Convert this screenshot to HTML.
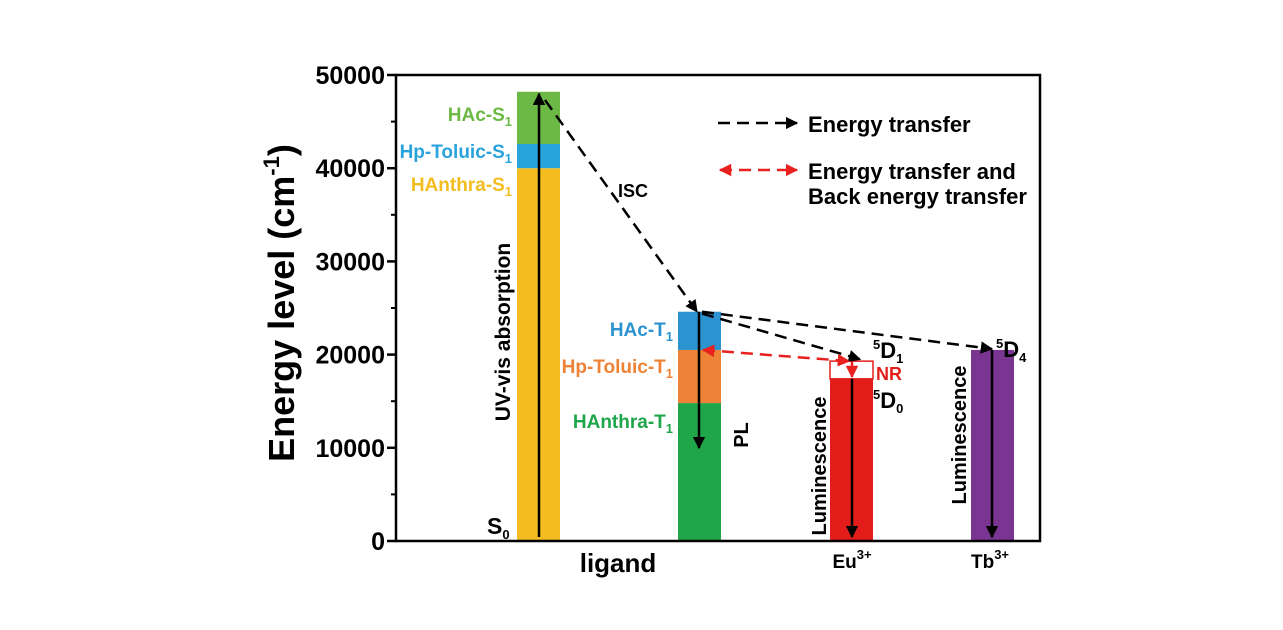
<!DOCTYPE html>
<html><head><meta charset="utf-8"><style>
html,body{margin:0;padding:0;background:#fff;}
svg{display:block;font-family:"Liberation Sans",Arial,sans-serif;font-weight:bold;}
</style></head><body>
<svg id="chart" width="1283" height="630" viewBox="0 0 1283 630">
<defs>
<marker id="ah" viewBox="0 0 10 10" refX="9" refY="5" markerWidth="5" markerHeight="5" orient="auto-start-reverse"><path d="M0,0L10,5L0,10z" fill="#000"/></marker>
<marker id="ahr" viewBox="0 0 10 10" refX="9" refY="5" markerWidth="5" markerHeight="5" orient="auto-start-reverse"><path d="M0,0L10,5L0,10z" fill="#e8201e"/></marker>
</defs>
<g id="bars"></g>
<g id="axes"></g>
<g id="arrows"></g>
<g id="labels"></g>
</svg>
<script>
const yTicks=[0,10000,20000,30000,40000,50000];
const minorTicks=[5000,15000,25000,35000,45000];
const segLabels=["HAnthra-S1","Hp-Toluic-S1","HAc-S1","HAnthra-T1","Hp-Toluic-T1","HAc-T1","Eu-5D0","Eu-NR","Tb-5D4"];
const segBottom=[0,40000,42600,0,14800,20500,0,17400,0];
const segTop=[40000,42600,48200,14800,20500,24600,17400,19300,20500];
const segCol=["#f4bd1f","#29a3dc","#6cba45","#1fa64a","#ee8236","#2a93d0","#e31e1a","#ffffff","#7a3491"];
const segX=[517,517,517,678,678,678,830,830,971];
const W=43;
const X0=396,X1=1040,Y0=541,Y1=75;
function y(v){return Y0-(v/50000)*(Y0-Y1);}
const NS="http://www.w3.org/2000/svg";
function el(tag,attrs,parent,txt){const e=document.createElementNS(NS,tag);for(const k in attrs)e.setAttribute(k,attrs[k]);if(txt!==undefined)e.textContent=txt;parent.appendChild(e);return e;}
const bars=document.getElementById('bars'),axes=document.getElementById('axes');
segTop.forEach((t,i)=>{
 const r=el('rect',{x:segX[i],y:y(t),width:W,height:y(segBottom[i])-y(t),fill:segCol[i]},bars);
 if(segCol[i]==="#ffffff"){r.setAttribute('stroke','#e31e1a');r.setAttribute('stroke-width','1.5');}
 
 
});
const frame=el('rect',{x:X0,y:Y1,width:X1-X0,height:Y0-Y1,fill:'none',stroke:'#000','stroke-width':2.5},axes);


yTicks.forEach(v=>{
 el('line',{x1:X0-9,x2:X0,y1:y(v),y2:y(v),stroke:'#000','stroke-width':2.5},axes);
 const t=el('text',{x:X0-11,y:y(v)+9,'text-anchor':'end','font-size':25},axes,String(v));
 
 
});
minorTicks.forEach(v=>{el('line',{x1:X0-5,x2:X0,y1:y(v),y2:y(v),stroke:'#000','stroke-width':2},axes);});
</script>
<script>
const ar=document.getElementById('arrows'),lb=document.getElementById('labels');
function ln(x1,y1,x2,y2,col,dash,m1,m2,name){
 const l=el('line',{x1,y1,x2,y2,stroke:col,'stroke-width':2.5},ar);
 if(dash)l.setAttribute('stroke-dasharray','12 7');
 if(m2)l.setAttribute('marker-end',m2);
 if(m1)l.setAttribute('marker-start',m1);
 
 
}
ln(539,537,539,y(48200)+2,'#000',false,null,'url(#ah)','uv-absorption-arrow');
ln(545,100,697,y(24600),'#000',true,null,'url(#ah)','isc-arrow');
ln(699,y(24600),699,448,'#000',false,null,'url(#ah)','pl-arrow');
ln(702,y(24400),860,y(19500),'#000',true,null,'url(#ah)','et-eu-arrow');
ln(702,y(24600),992,y(20600),'#000',true,null,'url(#ah)','et-tb-arrow');
ln(703,y(20500),849,y(19300),'#e8201e',true,'url(#ahr)','url(#ahr)','back-transfer-arrow');
ln(852,y(19300),852,y(17600),'#e8201e',false,null,'url(#ahr)','nr-arrow');
ln(852,y(17400),852,537,'#000',false,null,'url(#ah)','eu-luminescence-arrow');
ln(992,y(20500),992,537,'#000',false,null,'url(#ah)','tb-luminescence-arrow');
ln(718,123,797,123,'#000',true,null,'url(#ah)','legend-black-arrow');
ln(720,170,797,170,'#e8201e',true,'url(#ahr)','url(#ahr)','legend-red-arrow');
function tx(x,yy,s,size,col,anchor,name,rot){
 const t=el('text',{x,y:yy,'font-size':size,fill:col||'#000','text-anchor':anchor||'start'},lb);
 t.innerHTML=s;
 if(rot)t.setAttribute('transform','rotate(-90 '+x+' '+yy+')');
 
 
}
const sub=s=>'<tspan font-size="13" dy="5">'+s+'</tspan>';
const sup=s=>'<tspan font-size="13" dy="-9">'+s+'</tspan>';
tx(294,303,'Energy level (cm'+'<tspan font-size="22" dy="-15">-1</tspan><tspan dy="15">)</tspan>',36,'#000','middle','y-axis-title',true);
tx(512,121,'HAc-S'+sub('1'),19,'#6cba45','end','label-hac-s1');
tx(512,158,'Hp-Toluic-S'+sub('1'),19,'#29a3dc','end','label-hptoluic-s1');
tx(512,191,'HAnthra-S'+sub('1'),19,'#f4bd1f','end','label-hanthra-s1');
tx(673,336,'HAc-T'+sub('1'),19,'#2a93d0','end','label-hac-t1');
tx(673,373,'Hp-Toluic-T'+sub('1'),19,'#ee8236','end','label-hptoluic-t1');
tx(673,428,'HAnthra-T'+sub('1'),19,'#1fa64a','end','label-hanthra-t1');
tx(510,332,'UV-vis absorption',21,'#000','middle','uv-vis-label',true);
tx(748,435,'PL',20,'#000','middle','pl-label',true);
tx(826,466,'Luminescence',20,'#000','middle','eu-luminescence-label',true);
tx(966,435,'Luminescence',20,'#000','middle','tb-luminescence-label',true);
tx(633,197,'ISC',18,'#000','middle','isc-label');
tx(487,534,'S'+sub('0'),23,'#000','start','s0-label');
tx(873,358,sup('5')+'<tspan dy="9">D</tspan>'+sub('1'),22,'#000','start','5d1-label');
tx(876,380,'NR',18,'#e31e1a','start','nr-label');
tx(873,408,sup('5')+'<tspan dy="9">D</tspan>'+sub('0'),22,'#000','start','5d0-label');
tx(996,357,sup('5')+'<tspan dy="9">D</tspan>'+sub('4'),22,'#000','start','5d4-label');
tx(618,572,'ligand',26,'#000','middle','x-label-ligand');
tx(852,568,'Eu'+sup('3+'),19,'#000','middle','x-label-eu');
tx(990,568,'Tb'+sup('3+'),19,'#000','middle','x-label-tb');
tx(808,132,'Energy transfer',22,'#000','start','legend-energy-transfer');
tx(808,179,'Energy transfer and',22,'#000','start','legend-back-transfer-1');
tx(808,204,'Back energy transfer',22,'#000','start','legend-back-transfer-2');
</script>
</body></html>
